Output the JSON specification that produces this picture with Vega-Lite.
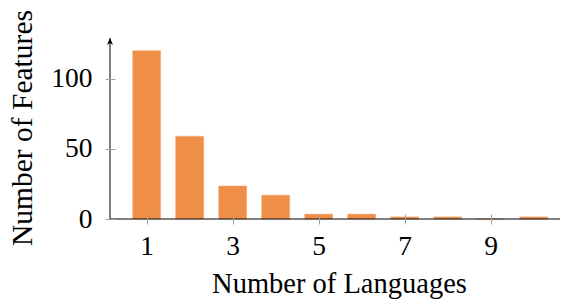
{
  "$schema": "https://vega.github.io/schema/vega-lite/v6.json",
  "width": 450,
  "height": 181,
  "autosize": "none",
  "padding": {"left": 110, "top": 38, "right": 9, "bottom": 81},
  "background": "white",
  "config": {"view": {"stroke": null}, "font": "Liberation Serif"},
  "data": {
    "values": [
      {"languages": 1, "features": 120},
      {"languages": 2, "features": 59},
      {"languages": 3, "features": 23.5},
      {"languages": 4, "features": 17},
      {"languages": 5, "features": 3.5},
      {"languages": 6, "features": 3.5},
      {"languages": 7, "features": 1.5},
      {"languages": 8, "features": 1.5},
      {"languages": 9, "features": 0},
      {"languages": 10, "features": 1.5}
    ]
  },
  "layer": [
    {
      "mark": {"type": "bar", "size": 28, "color": "#ef8e46", "stroke": "#f4b07f", "strokeWidth": 0.6},
      "encoding": {
        "x": {
          "field": "languages", "type": "quantitative",
          "scale": {"domain": [0.147, 10.612], "nice": false, "zero": false, "padding": 0},
          "axis": {
            "orient": "bottom", "offset": -5, "values": [1, 3, 5, 7, 9], "title": "Number of Languages", "grid": false,
            "domain": false, "tickColor": "#a0a0a0", "tickSize": 10, "tickWidth": 1,
            "labelFontSize": 27.5, "labelColor": "black", "labelBaseline": "alphabetic", "labelPadding": 30,
            "labelFont": "Liberation Serif", "labelFlush": false,
            "titleFont": "Liberation Serif", "titleFontSize": 28.5, "titleFontWeight": "normal", "titleColor": "black",
            "titleX": 229, "titleY": 78, "titleBaseline": "alphabetic", "titleAlign": "center", "zindex": 1
          }
        },
        "y": {
          "field": "features", "type": "quantitative",
          "scale": {"domain": [0, 129], "nice": false, "padding": 0},
          "axis": {
            "orient": "left", "offset": -5, "values": [0, 50, 100], "title": "Number of Features", "grid": false,
            "domain": false, "tickColor": "#a0a0a0", "tickSize": 10, "tickWidth": 1,
            "labelFontSize": 27.5, "labelColor": "black", "labelBaseline": "middle", "labelPadding": 13,
            "labelFont": "Liberation Serif",
            "titleFont": "Liberation Serif", "titleFontSize": 29.5, "titleFontWeight": "normal", "titleColor": "black",
            "titleAngle": -90, "titleX": -84, "titleY": 89.5, "titleBaseline": "alphabetic", "titleAlign": "center", "zindex": 1
          }
        }
      }
    },
    {
      "data": {"values": [{"line": "y axis"}]},
      "mark": {"type": "rule", "color": "black", "strokeWidth": 1},
      "encoding": {
        "x": {"datum": 0.147, "type": "quantitative"},
        "y": {"datum": 0, "type": "quantitative"},
        "y2": {"datum": 129}
      }
    },
    {
      "data": {"values": [{"line": "x axis"}]},
      "mark": {"type": "rule", "color": "black", "strokeWidth": 1},
      "encoding": {
        "y": {"datum": 0, "type": "quantitative"},
        "x": {"datum": 0.147, "type": "quantitative"},
        "x2": {"datum": 10.612}
      }
    },
    {
      "data": {"values": [{"tip": "arrow"}]},
      "mark": {"type": "point", "shape": "M-0.9,2.1L0,0L0.9,2.1L0,1.5Z", "filled": true, "color": "black", "size": 45, "opacity": 1},
      "encoding": {
        "x": {"datum": 0.147, "type": "quantitative"},
        "y": {"datum": 129, "type": "quantitative"}
      }
    }
  ]
}
